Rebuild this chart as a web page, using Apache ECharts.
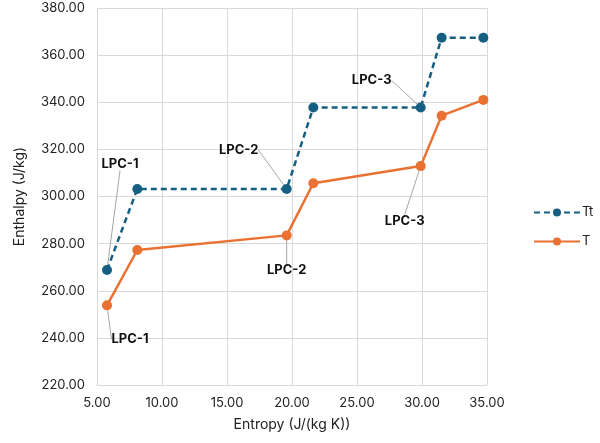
<!DOCTYPE html>
<html><head><meta charset="utf-8">
<script src="https://cdn.jsdelivr.net/npm/echarts@6/dist/echarts.min.js"></script>
<style>html,body{margin:0;padding:0;background:#fff}#c{width:600px;height:443px}</style>
</head><body><div id="c"></div>
<script>
const entropy = [5.77, 8.10, 19.59, 21.64, 29.90, 31.51, 34.72];
const enthalpyTt = [268.8, 303.2, 303.2, 337.8, 337.8, 367.4, 367.4];
const enthalpyT = [253.8, 277.3, 283.5, 305.6, 312.9, 334.3, 341.0];
const labelsTt = ['LPC-1', null, 'LPC-2', null, 'LPC-3', null, null];
const labelsT = ['LPC-1', null, 'LPC-2', null, 'LPC-3', null, null];
const seriesNames = ['Tt', 'T'];
const xTitle = 'Entropy (J/(kg K))';
const yTitle = 'Enthalpy (J/kg)';

// label offsets (px) relative to the point, per series/index
const offsets = {
  0: {0: [13, -106], 2: [-48, -39], 4: [-49, -27]},
  1: {0: [23, 34], 2: [0, 35], 4: [-16, 55]}
};

function build(vals, labels) {
  return entropy.map((x, i) => {
    const d = {value: [x, vals[i]]};
    if (labels[i]) d.label = {show: true, formatter: labels[i]};
    return d;
  });
}
const font = 'Inter, "Noto Sans", sans-serif';
const chart = echarts.init(document.getElementById('c'));
const colors = ['#156082', '#E97132'];
chart.setOption({
  animation: false,
  textStyle: {fontFamily: font},
  grid: {left: 97, right: 113, top: 8, bottom: 58},
  legend: {
    orient: 'vertical', left: 528, top: 201, itemWidth: 46, itemHeight: 10, itemGap: 16,
    textStyle: {fontSize: 13, color: '#222', fontFamily: font, padding: [0, 0, 0, -3]},
    data: seriesNames
  },
  xAxis: {
    type: 'value', min: 5, max: 35, interval: 5,
    name: xTitle, nameLocation: 'middle', nameGap: 33,
    nameTextStyle: {fontSize: 14, color: '#222', fontFamily: font},
    axisLine: {show: true, lineStyle: {color: '#d9d9d9', width: 1}},
    axisTick: {show: false},
    axisLabel: {formatter: v => v.toFixed(2), fontSize: 13, color: '#222', margin: 12},
    splitLine: {show: true, lineStyle: {color: '#d9d9d9', width: 1}}
  },
  yAxis: {
    type: 'value', min: 220, max: 380, interval: 20,
    name: yTitle, nameLocation: 'middle', nameGap: 70, nameRotate: 90,
    nameTextStyle: {fontSize: 14, color: '#222', fontFamily: font},
    axisLine: {show: true, lineStyle: {color: '#d9d9d9', width: 1}},
    axisTick: {show: false},
    axisLabel: {formatter: v => v.toFixed(2), fontSize: 13, color: '#222', margin: 12},
    splitLine: {show: true, lineStyle: {color: '#d9d9d9', width: 1}}
  },
  series: [0, 1].map(s => ({
    name: seriesNames[s],
    type: 'line',
    data: build(s === 0 ? enthalpyTt : enthalpyT, s === 0 ? labelsTt : labelsT),
    symbol: 'circle', symbolSize: 10,
    itemStyle: {color: colors[s]},
    lineStyle: {color: colors[s], width: 2.5, type: s === 0 ? [6, 4] : 'solid'},
    label: {show: false, position: 'inside', fontSize: 13, fontWeight: 'bold', color: '#111', fontFamily: font},
    labelLine: {show: true, lineStyle: {color: '#a6a6a6', width: 1}},
    labelLayout: p => {
      const o = offsets[p.seriesIndex] && offsets[p.seriesIndex][p.dataIndex];
      return o ? {dx: o[0], dy: o[1]} : {};
    },
    z: s === 0 ? 3 : 2
  }))
});
</script></body></html>
